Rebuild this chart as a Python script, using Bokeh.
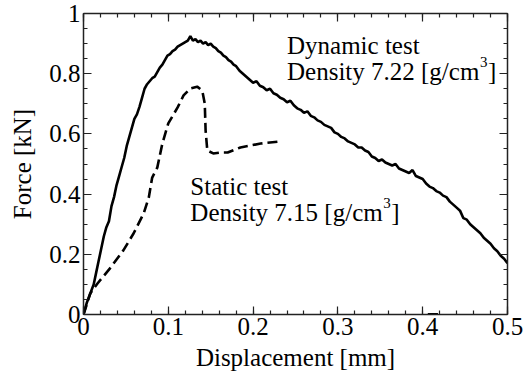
import numpy as np
from bokeh.plotting import figure
from bokeh.models import Range1d, LinearAxis, FixedTicker, Label
from bokeh.embed import file_html
from bokeh.resources import INLINE

# Dynamic test (solid)
dyn_x = [0, 0.004, 0.008, 0.012, 0.015, 0.018, 0.021, 0.024, 0.027, 0.030, 0.033, 0.036,
         0.039, 0.042, 0.045, 0.048, 0.051, 0.054, 0.057, 0.060, 0.063, 0.066, 0.069, 0.072,
         0.075, 0.078, 0.081, 0.084, 0.087, 0.090, 0.093, 0.096, 0.099, 0.102, 0.105, 0.108,
         0.111, 0.114, 0.117, 0.120, 0.123, 0.126, 0.129, 0.132, 0.135, 0.138, 0.141, 0.144,
         0.147, 0.150, 0.153, 0.156, 0.159, 0.162, 0.165, 0.168, 0.171, 0.174, 0.177, 0.180,
         0.184, 0.188, 0.192, 0.196, 0.200, 0.204, 0.208, 0.212, 0.216, 0.220, 0.224, 0.228,
         0.232, 0.236, 0.240, 0.244, 0.248, 0.252, 0.256, 0.260, 0.264, 0.268, 0.272, 0.276,
         0.280, 0.284, 0.288, 0.292, 0.296, 0.300, 0.304, 0.308, 0.312, 0.316, 0.320, 0.324,
         0.328, 0.332, 0.336, 0.340, 0.344, 0.348, 0.352, 0.356, 0.360, 0.364, 0.368, 0.372,
         0.376, 0.380, 0.384, 0.388, 0.392, 0.396, 0.400, 0.404, 0.408, 0.412, 0.416, 0.420,
         0.424, 0.428, 0.432, 0.436, 0.440, 0.444, 0.448, 0.452, 0.456, 0.460, 0.464, 0.468,
         0.472, 0.476, 0.480, 0.484, 0.488, 0.492, 0.496, 0.500]
dyn_y = [0, 0.04, 0.07, 0.10, 0.14, 0.18, 0.22, 0.26, 0.29, 0.31, 0.36, 0.39,
         0.43, 0.46, 0.49, 0.52, 0.56, 0.59, 0.62, 0.65, 0.665, 0.69, 0.72, 0.75,
         0.765, 0.775, 0.785, 0.79, 0.805, 0.82, 0.83, 0.845, 0.86, 0.865, 0.875, 0.88,
         0.89, 0.895, 0.90, 0.905, 0.91, 0.925, 0.91, 0.915, 0.905, 0.91, 0.90, 0.905,
         0.895, 0.90, 0.89, 0.885, 0.875, 0.87, 0.86, 0.855, 0.845, 0.84, 0.83, 0.825,
         0.81, 0.80, 0.79, 0.78, 0.77, 0.775, 0.76, 0.755, 0.745, 0.75, 0.735, 0.73,
         0.72, 0.715, 0.705, 0.71, 0.695, 0.685, 0.68, 0.67, 0.675, 0.66, 0.655, 0.645,
         0.64, 0.63, 0.625, 0.62, 0.605, 0.60, 0.59, 0.585, 0.575, 0.57, 0.565, 0.555,
         0.555, 0.545, 0.54, 0.525, 0.52, 0.51, 0.515, 0.505, 0.50, 0.495, 0.50, 0.485,
         0.48, 0.475, 0.47, 0.48, 0.46, 0.455, 0.45, 0.435, 0.425, 0.42, 0.41, 0.405,
         0.395, 0.39, 0.375, 0.365, 0.355, 0.345, 0.32, 0.315, 0.30, 0.29, 0.28, 0.27,
         0.255, 0.245, 0.235, 0.22, 0.21, 0.195, 0.185, 0.17]

# Static test (dashed)
sta_x = [0, 0.008, 0.0165, 0.032, 0.047, 0.059, 0.071, 0.077, 0.081, 0.087, 0.093, 0.100,
         0.111, 0.118, 0.126, 0.134, 0.140, 0.143, 0.144, 0.146, 0.153, 0.162, 0.170,
         0.185, 0.209, 0.232]
sta_y = [0, 0.07, 0.103, 0.156, 0.213, 0.269, 0.336, 0.389, 0.455, 0.488, 0.568, 0.635,
         0.688, 0.728, 0.751, 0.757, 0.744, 0.701, 0.611, 0.545, 0.535, 0.538, 0.538,
         0.555, 0.568, 0.575]

# short segment on the x axis
tail_x = [0.406, 0.418]
tail_y = [0, 0]

x_ticks = [0, 0.1, 0.2, 0.3, 0.4, 0.5]
x_tick_labels = ["0", "0.1", "0.2", "0.3", "0.4", "0.5"]
y_ticks = [0, 0.2, 0.4, 0.6, 0.8, 1.0]
y_tick_labels = ["0", "0.2", "0.4", "0.6", "0.8", "1"]

FONT = "'Liberation Serif'"

p = figure(width=528, height=385, output_backend="svg", toolbar_location=None,
           x_range=Range1d(0, 0.5), y_range=Range1d(0, 1),
           x_axis_location=None, y_axis_location=None,
           min_border_left=83, min_border_right=21, min_border_top=13, min_border_bottom=71)
p.xgrid.visible = False
p.ygrid.visible = False
p.outline_line_color = None
p.background_fill_color = "white"
p.border_fill_color = "white"

x_minor = list(np.round(np.arange(0, 0.5001, 0.02), 4))
y_minor = list(np.round(np.arange(0, 1.0001, 0.05), 4))


def style(ax, labels):
    ax.axis_line_color = "#222222"
    ax.axis_line_width = 1.5
    ax.major_tick_in = 8
    ax.major_tick_out = 0
    ax.minor_tick_in = 4
    ax.minor_tick_out = 0
    ax.major_tick_line_color = "#222222"
    ax.minor_tick_line_color = "#222222"
    ax.major_tick_line_width = 1.2
    ax.minor_tick_line_width = 1.2
    ax.major_label_text_font = FONT
    ax.major_label_text_font_size = "25px"
    ax.major_label_text_color = "black"
    ax.major_label_standoff = 3
    ax.axis_label_text_font = FONT
    ax.axis_label_text_font_size = "25px"
    ax.axis_label_text_font_style = "normal"
    ax.axis_label_text_color = "black"
    if not labels:
        ax.major_label_text_color = None


bx = LinearAxis(ticker=FixedTicker(ticks=x_ticks, minor_ticks=x_minor), axis_label="Displacement [mm]")
bx.major_label_overrides = {t: l for t, l in zip(x_ticks, x_tick_labels)}
style(bx, True)
bx.axis_label_standoff = 6
p.add_layout(bx, "below")

tx = LinearAxis(ticker=FixedTicker(ticks=x_ticks, minor_ticks=x_minor))
style(tx, False)
p.add_layout(tx, "above")

ly = LinearAxis(ticker=FixedTicker(ticks=y_ticks, minor_ticks=y_minor), axis_label="Force [kN]")
ly.major_label_overrides = {t: l for t, l in zip(y_ticks, y_tick_labels)}
style(ly, True)
ly.axis_label_standoff = 10
p.add_layout(ly, "left")

ry = LinearAxis(ticker=FixedTicker(ticks=y_ticks, minor_ticks=y_minor))
style(ry, False)
p.add_layout(ry, "right")

p.line(dyn_x, dyn_y, line_color="black", line_width=2.6)
p.line(sta_x, sta_y, line_color="black", line_width=2.6, line_dash="10 5")
p.line(tail_x, tail_y, line_color="black", line_width=3)


def lab(x, y, text, size="25px", x_offset=0):
    p.add_layout(Label(x=x, y=y, text=text, text_font=FONT, text_font_size=size,
                       text_color="black", text_baseline="alphabetic", x_offset=x_offset))


# Dynamic annotation
lab(0.240, 0.893, "Dynamic test")
lab(0.240, 0.807, "Density 7.22 [g/cm")
lab(0.240, 0.840, "3", size="15px", x_offset=193)
lab(0.240, 0.807, "]", x_offset=201)

# Static annotation
lab(0.126, 0.425, "Static test")
lab(0.126, 0.339, "Density 7.15 [g/cm")
lab(0.126, 0.372, "3", size="15px", x_offset=193)
lab(0.126, 0.339, "]", x_offset=201)

open("out.html", "w").write(file_html(p, INLINE))
